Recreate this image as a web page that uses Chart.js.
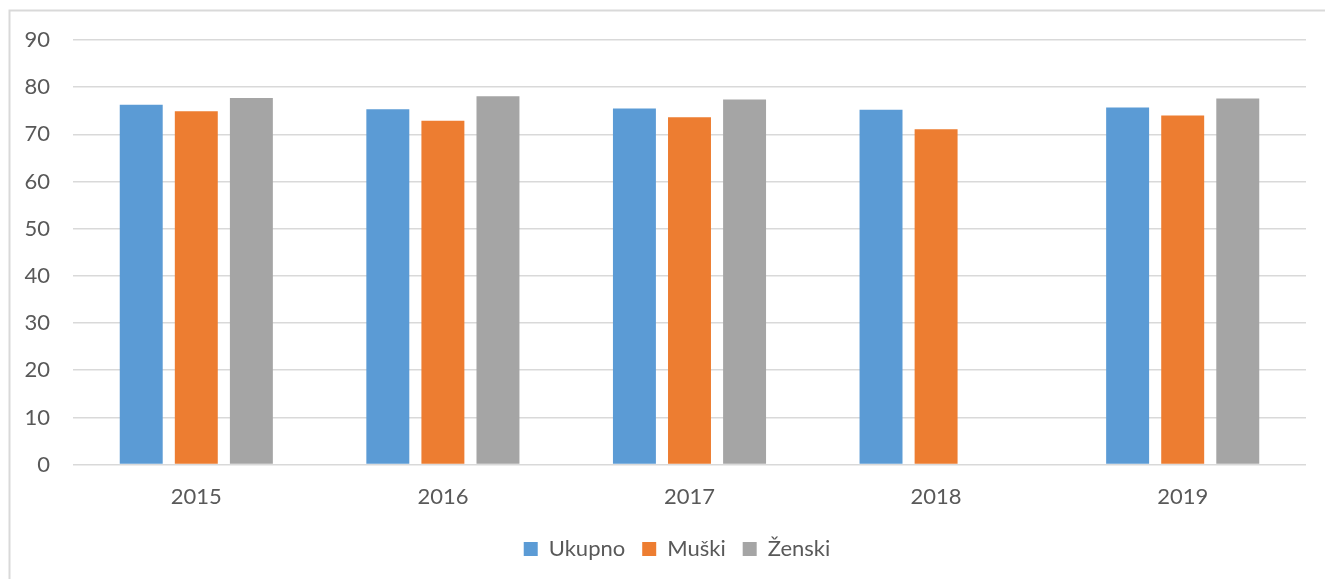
<!DOCTYPE html>
<html>
<head>
<meta charset="utf-8">
<script src="https://cdn.jsdelivr.net/npm/chart.js@4"></script>
<style>
  html, body { margin: 0; padding: 0; background: #fff; }
  #wrap { width: 1325px; height: 579px; position: relative; }
</style>
</head>
<body>
<div id="wrap"><canvas id="barChart" width="1325" height="579"></canvas></div>
<script>
// chart data
var years = ['2015', '2016', '2017', '2018', '2019'];
var ukupno = [76.3, 75.3, 75.5, 75.2, 75.7];
var muski = [74.9, 72.9, 73.6, 71.1, 74.0];
var zenski = [77.7, 78.1, 77.4, null, 77.6];
var yTicks = [0, 10, 20, 30, 40, 50, 60, 70, 80, 90];

var textColor = '#595959';
var gridColor = '#d9d9d9';
var fontFamily = 'Lato, "Liberation Sans", sans-serif';

// outer frame like the original office chart border
var framePlugin = {
    id: 'frame',
    afterLayout: function (chart) {
        // legend sits a bit right of the canvas centre in the original
        if (chart.legend) {
            chart.legend.left += 24;
            chart.legend.right += 24;
        }
    },
    beforeDraw: function (chart) {
        var ctx = chart.ctx;
        ctx.save();
        ctx.strokeStyle = gridColor;
        ctx.lineWidth = 2;
        ctx.beginPath();
        ctx.moveTo(9.5, chart.height + 5);
        ctx.lineTo(9.5, 10.5);
        ctx.lineTo(chart.width + 5, 10.5);
        ctx.stroke();
        ctx.restore();
    }
};

var ctx = document.getElementById('barChart').getContext('2d');
new Chart(ctx, {
    type: 'bar',
    data: {
        labels: years,
        datasets: [{
            label: 'Ukupno',
            data: ukupno,
            backgroundColor: '#5b9bd5'
        }, {
            label: 'Muški',
            data: muski,
            backgroundColor: '#ed7d31'
        }, {
            label: 'Ženski',
            data: zenski,
            backgroundColor: '#a5a5a5'
        }]
    },
    options: {
        responsive: false,
        animation: false,
        layout: {
            padding: { top: 40, right: 19, bottom: 9, left: 0 }
        },
        datasets: {
            bar: {
                categoryPercentage: 0.67,
                barPercentage: 0.78
            }
        },
        plugins: {
            legend: {
                position: 'bottom',
                labels: {
                    color: textColor,
                    font: { family: fontFamily, size: 22 },
                    boxWidth: 14,
                    boxHeight: 14,
                    padding: 17
                }
            },
            tooltip: { enabled: false }
        },
        scales: {
            x: {
                grid: { display: false },
                border: { display: false },
                ticks: {
                    color: textColor,
                    font: { family: fontFamily, size: 22 },
                    padding: 11
                }
            },
            y: {
                min: 0,
                max: 90,
                afterFit: function (scale) { scale.width = 73; },
                afterBuildTicks: function (scale) {
                    scale.ticks = yTicks.map(function (v) { return { value: v }; });
                },
                grid: {
                    color: gridColor,
                    lineWidth: 1.5,
                    drawTicks: false
                },
                border: { display: false },
                ticks: {
                    color: textColor,
                    font: { family: fontFamily, size: 22 },
                    padding: 23
                }
            }
        }
    },
    plugins: [framePlugin]
});
</script>
</body>
</html>
